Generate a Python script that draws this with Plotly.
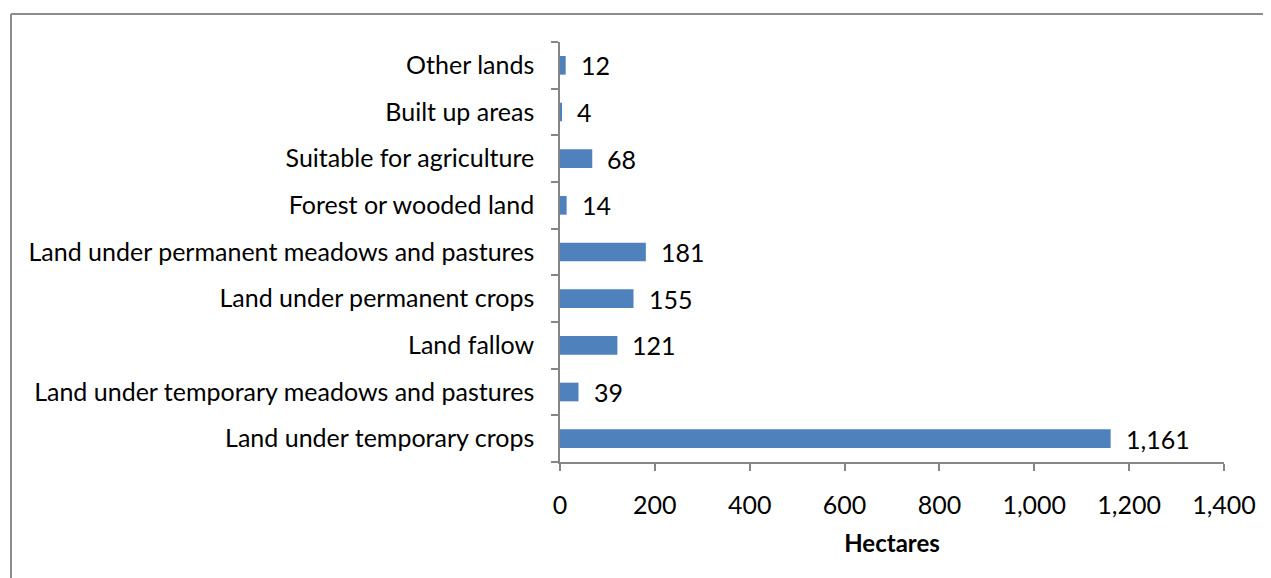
import plotly.graph_objects as go

categories = [
    "Land under temporary crops",
    "Land under temporary meadows and pastures",
    "Land fallow",
    "Land under permanent crops",
    "Land under permanent meadows and pastures",
    "Forest or wooded land",
    "Suitable for agriculture",
    "Built up areas",
    "Other lands",
]
values = [1161, 39, 121, 155, 181, 14, 68, 4, 12]
x_ticks = [0, 200, 400, 600, 800, 1000, 1200, 1400]

W, H = 1271, 578
OFF = 8  # page body margin
L, T = 560 - OFF, 42 - OFF
R = W - (1224 - OFF)
B = H - (462 - OFF)
pw, ph = W - L - R, H - T - B

FONT = "Lato, Carlito, Calibri, sans-serif"
FS = 25
AX = "#868686"

fig = go.Figure(go.Bar(
    x=values, y=categories, orientation="h",
    marker=dict(color="#4F81BD", line=dict(color="#4F81BD", width=0)),
    width=0.4,
))

for v, c in zip(values, categories):
    fig.add_annotation(x=v, y=c, text=f"{v:,}", showarrow=False,
                       xanchor="left", xshift=13, yshift=0,
                       font=dict(family=FONT, size=FS, color="black"))

def px2x(p):
    return (p - OFF - L) / pw

def py2y(p):
    return (H - B - (p - OFF)) / ph

border = dict(color="#8c8c8c", width=2)
fig.add_shape(type="line", xref="paper", yref="paper",
              x0=px2x(11), x1=px2x(1290), y0=py2y(14), y1=py2y(14), line=border)
fig.add_shape(type="line", xref="paper", yref="paper",
              x0=px2x(11), x1=px2x(11), y0=py2y(14), y1=py2y(600), line=border)

fig.update_layout(
    width=W, height=H,
    margin=dict(l=L, r=R, t=T, b=B, autoexpand=False),
    paper_bgcolor="white", plot_bgcolor="white",
    showlegend=False,
    font=dict(family=FONT, size=FS, color="black"),
    xaxis=dict(
        range=[0, 1400], tickvals=x_ticks, tickformat=",",
        showgrid=False, zeroline=False,
        showline=True, linecolor=AX, linewidth=1.5,
        ticks="outside", ticklen=7, tickcolor=AX, tickwidth=1.5,
        ticklabelstandoff=13,
        tickfont=dict(family=FONT, size=FS),
        title=dict(text="<b>Hectares</b>", font=dict(family=FONT, size=24), standoff=17),
    ),
    yaxis=dict(
        type="category", categoryorder="array", categoryarray=categories,
        showgrid=False, zeroline=False,
        showline=True, linecolor=AX, linewidth=1.5,
        ticks="outside", ticklen=7, tickcolor=AX, tickwidth=1.5,
        tickson="boundaries", ticklabelstandoff=19,
        tickfont=dict(family=FONT, size=FS),
    ),
)

fig.write_html("out.html")
